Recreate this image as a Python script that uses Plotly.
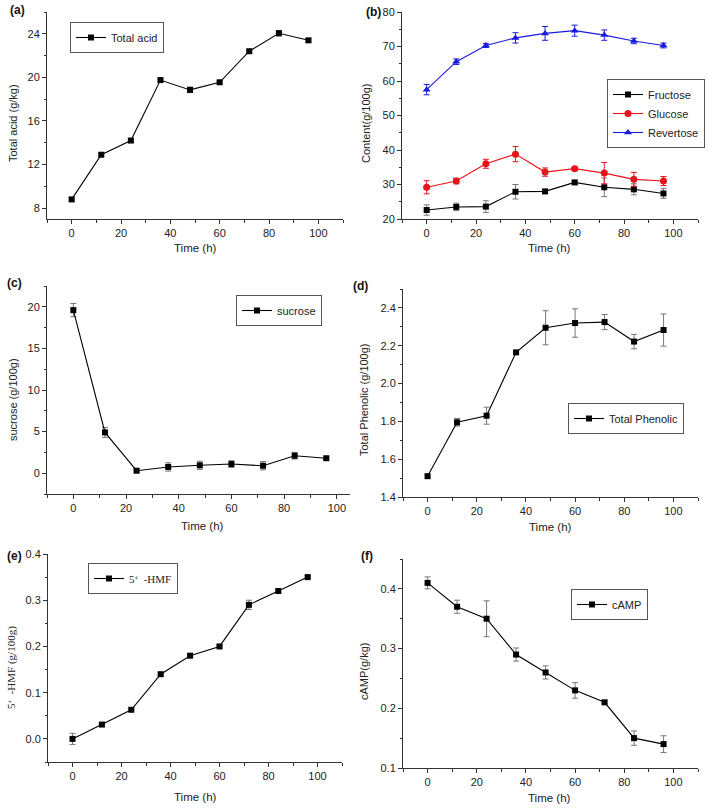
import plotly.graph_objects as go

# ---------------- data ----------------
time_h = [0, 12, 24, 36, 48, 60, 72, 84, 96]

total_acid = [8.8, 12.9, 14.2, 19.75, 18.85, 19.55, 22.4, 24.05, 23.4]
total_acid_err = [0.15, 0.15, 0.15, 0.15, 0.25, 0.15, 0.15, 0.25, 0.15]

fructose = [22.6, 23.5, 23.6, 27.9, 28.0, 30.6, 29.2, 28.6, 27.4]
fructose_err = [1.5, 1.1, 1.7, 2.1, 0.5, 0.6, 2.7, 1.6, 1.4]
glucose = [29.2, 31.0, 36.0, 38.8, 33.6, 34.6, 33.3, 31.5, 31.0]
glucose_err = [1.9, 0.8, 1.3, 2.2, 1.2, 0.5, 3.1, 2.0, 1.3]
revertose = [57.5, 65.6, 70.3, 72.5, 73.8, 74.6, 73.3, 71.6, 70.3]
revertose_err = [1.5, 0.8, 0.6, 1.5, 2.0, 1.6, 1.5, 0.8, 0.7]

sucrose = [19.6, 4.9, 0.3, 0.75, 0.95, 1.1, 0.9, 2.1, 1.8]
sucrose_err = [0.8, 0.6, 0.2, 0.5, 0.5, 0.4, 0.5, 0.4, 0.2]

phenolic = [1.51, 1.795, 1.83, 2.165, 2.295, 2.32, 2.325, 2.222, 2.283]
phenolic_err = [0.01, 0.02, 0.045, 0.01, 0.09, 0.075, 0.04, 0.038, 0.085]

hmf = [0.0, 0.031, 0.063, 0.14, 0.18, 0.2, 0.29, 0.32, 0.35]
hmf_err = [0.012, 0.003, 0.003, 0.003, 0.003, 0.003, 0.01, 0.003, 0.003]

camp = [0.41, 0.37, 0.35, 0.29, 0.26, 0.23, 0.21, 0.15, 0.14]
camp_err = [0.01, 0.011, 0.03, 0.011, 0.011, 0.013, 0.002, 0.012, 0.014]

# ---------------- layout helpers ----------------
W, H = 709, 810
SANS = "Arial, Liberation Sans, sans-serif"
SERIF = "Times New Roman, Liberation Serif, serif"


def px(x):
    return x / W


def py(y):
    return 1 - y / H


def dx(a, b):
    return [px(a), px(b)]


def dy(top, bottom):
    return [py(bottom), py(top)]


fig = go.Figure()

ERR_COLOR = "#777777"


def add_series(n, y, err, name, color, symbol, legend, size=6):
    fig.add_trace(go.Scatter(
        x=time_h, y=y, name=name, mode="lines+markers",
        line=dict(color=color, width=1.1),
        marker=dict(symbol=symbol, size=size, color=color),
        error_y=dict(type="data", array=err, visible=True,
                     color=ERR_COLOR if color == "black" else color,
                     thickness=1, width=3),
        xaxis="x" if n == 1 else f"x{n}",
        yaxis="y" if n == 1 else f"y{n}",
        legend=legend,
    ))


add_series(1, total_acid, total_acid_err, "Total acid", "black", "square", "legend")
add_series(2, fructose, fructose_err, "Fructose", "black", "square", "legend2")
add_series(2, glucose, glucose_err, "Glucose", "#e8141c", "circle", "legend2", 7)
add_series(2, revertose, revertose_err, "Revertose", "#1a1adc", "triangle-up", "legend2", 7)
add_series(3, sucrose, sucrose_err, "sucrose", "black", "square", "legend3")
add_series(4, phenolic, phenolic_err, "Total Phenolic", "black", "square", "legend4")
add_series(5, hmf, hmf_err, "5‘  -HMF", "black", "square", "legend5")
add_series(6, camp, camp_err, "cAMP", "black", "square", "legend6")

panels = [
    # n, xdom px, ydom px (top,bottom), xrange, yrange, ydtick, yminor, yformat
    (1, (47, 343), (12, 219), [-10, 110], [7, 26], 4, 2, None),
    (2, (402, 698), (12, 219), [-10, 110], [20, 80], 10, 5, None),
    (3, (47, 350), (286, 494), [-10, 105], [-2.5, 22.5], 5, 2.5, None),
    (4, (403, 698), (289, 497), [-10, 110], [1.4, 2.5], 0.2, 0.1, ".1f"),
    (5, (48, 342), (554, 762), [-10, 110], [-0.05, 0.4], 0.1, 0.05, ".1f"),
    (6, (403, 698), (559, 768), [-10, 110], [0.1, 0.45], 0.1, 0.05, ".1f"),
]

axis_common = dict(
    showline=True, linecolor="#333333", linewidth=1,
    ticks="outside", ticklen=4, tickcolor="#333333", tickwidth=1,
    showgrid=False, zeroline=False, mirror=False, automargin=False,
    tickfont=dict(family=SANS, size=11, color="#222222"),
)

layout = {}
for n, (x0, x1), (t, b), xr, yr, ydt, ymin, yfmt in panels:
    xk = "xaxis" if n == 1 else f"xaxis{n}"
    yk = "yaxis" if n == 1 else f"yaxis{n}"
    xa = "x" if n == 1 else f"x{n}"
    ya = "y" if n == 1 else f"y{n}"
    layout[xk] = dict(
        axis_common, domain=dx(x0, x1), range=xr, anchor=ya,
        tick0=0, dtick=20,
        minor=dict(ticks="outside", ticklen=2.5, tick0=0, dtick=10,
                   tickcolor="#333333"),
    )
    ydict = dict(
        axis_common, domain=dy(t, b), range=yr, anchor=xa,
        tick0=0, dtick=ydt,
        minor=dict(ticks="outside", ticklen=2.5, tick0=0, dtick=ymin,
                   tickcolor="#333333"),
    )
    if yfmt:
        ydict["tickformat"] = yfmt
    layout[yk] = ydict

legend_common = dict(
    bgcolor="white", bordercolor="#555555", borderwidth=1,
    font=dict(family=SANS, size=11, color="#222222"),
    xanchor="left", yanchor="top", itemwidth=30,
    tracegroupgap=0,
)
layout["legend"] = dict(legend_common, x=px(70), y=py(22))
layout["legend2"] = dict(legend_common, x=px(705), y=py(79), xanchor="right")
layout["legend3"] = dict(legend_common, x=px(236), y=py(295))
layout["legend4"] = dict(legend_common, x=px(568), y=py(403))
layout["legend5"] = dict(legend_common, x=px(88), y=py(563),
                         font=dict(family=SERIF, size=11, color="#222222"))
layout["legend6"] = dict(legend_common, x=px(571), y=py(589))

annotations = []
# panel labels
for lab, x, y in [("(a)", 17, 10), ("(b)", 374, 12), ("(c)", 14, 283),
                  ("(d)", 360, 286), ("(e)", 15, 556), ("(f)", 367, 556)]:
    annotations.append(dict(text=f"<b>{lab}</b>", x=px(x), y=py(y),
                            xref="paper", yref="paper", showarrow=False,
                            font=dict(family=SANS, size=12, color="#111111"),
                            xanchor="center", yanchor="middle"))
# x titles
for x, y in [(195, 248), (549, 248), (202, 526), (550, 527), (195, 797), (549, 798)]:
    annotations.append(dict(text="Time (h)", x=px(x), y=py(y),
                            xref="paper", yref="paper", showarrow=False,
                            font=dict(family=SANS, size=11.5, color="#222222"),
                            xanchor="center", yanchor="middle"))
# y titles
for txt, x, y, fam in [("Total acid (g/kg)", 13, 123, SANS),
                       ("Content(g/100g)", 366, 123, SANS),
                       ("sucrose (g/100g)", 13, 400, SANS),
                       ("Total Phenolic (g/100g)", 364, 400, SANS),
                       ("5‘  -HMF (g/100g)", 11, 668, SERIF),
                       ("cAMP(g/kg)", 364, 672, SANS)]:
    annotations.append(dict(text=txt, x=px(x), y=py(y), textangle=-90,
                            xref="paper", yref="paper", showarrow=False,
                            font=dict(family=fam, size=11, color="#222222"),
                            xanchor="center", yanchor="middle"))

fig.update_layout(
    width=W, height=H,
    margin=dict(l=0, r=0, t=0, b=0),
    paper_bgcolor="white", plot_bgcolor="white",
    showlegend=True,
    annotations=annotations,
    **layout,
)

# remove the page's default body margin so the figure fills the window exactly
fig.write_html(
    "out.html",
    config={"displayModeBar": False},
    post_script="document.body.style.margin='0';document.body.style.padding='0';",
)
